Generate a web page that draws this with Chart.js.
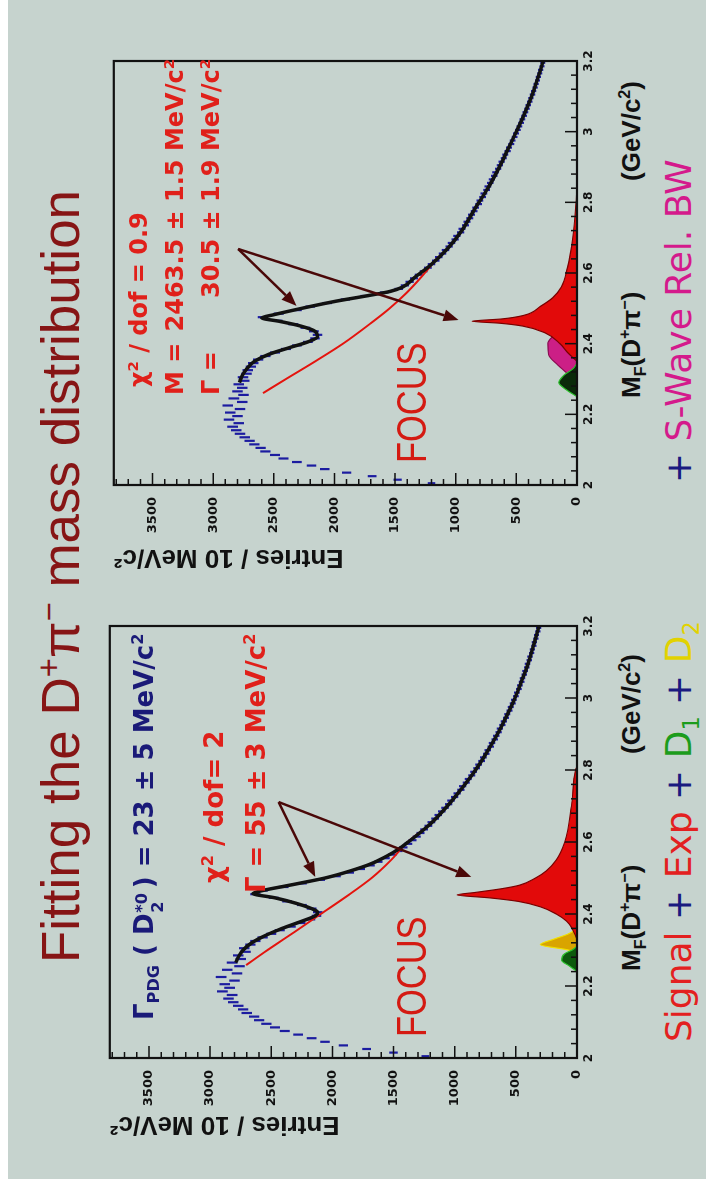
<!DOCTYPE html>
<html>
<head>
<meta charset="utf-8">
<title>Fitting the D+π- mass distribution</title>
<script src="https://cdn.jsdelivr.net/npm/chart.js@4.4.1/dist/chart.umd.min.js"></script>
<style>
  html, body { margin: 0; padding: 0; width: 706px; height: 1189px; overflow: hidden; background: #fff; }
  /* the slide is landscape; it is turned a quarter left to fit the portrait window */
  #slide { position: absolute; left: 0; top: 0; width: 1189px; height: 706px;
           transform-origin: 0 0; transform: translateY(1189px) rotate(-90deg);
           font-family: 'Liberation Sans', Arial, sans-serif; }
  #paper { position: absolute; left: 10px; top: 8px; right: 0; bottom: 0; background: #c6d3ce; }
  .box { position: absolute; }
  .txt { position: absolute; white-space: pre; line-height: 1; }
  .txt sup, .txt sub { line-height: 0; font-size: 62%; }
  .title { font-size: 53px; color: #861515; }
  .ann { font-family: 'DejaVu Sans', sans-serif; font-size: 26px; font-weight: bold; }
  .ann.sm { font-size: 24px; }
  .red { color: #e0201a; }
  .navy { color: #1a1a78; }
  .focus { font-size: 42px; color: #d41a12; transform: scaleX(0.82); transform-origin: 0 0; }
  .xt { font-size: 26px; font-weight: bold; color: #111; }
  .leg { font-family: 'DejaVu Sans', sans-serif; font-size: 36px; }
  .leg .r { color: #e32020; } .leg .b { color: #1a1a80; } .leg .g { color: #1c9c1c; }
  .leg .y { color: #e2d200; } .leg .m { color: #d41a8c; }
  .stk { position: relative; display: inline-block; width: 0.62em; height: 0; }
  .stk span { position: absolute; left: 0.04em; font-size: 62%; line-height: 1; }
  .stk .up { top: -1.2em; } .stk .dn { top: -0.2em; }
</style>
</head>
<body>
<div id="slide">
  <div id="paper"></div>

  <div class="txt title" style="left:226px;top:34px">Fitting the D<sup>+</sup>π<sup>−</sup> mass distribution</div>

  <div class="box" style="left:40px;top:90px"><canvas id="chartLeft" width="540" height="520"></canvas></div>
  <div class="box" style="left:613px;top:94px"><canvas id="chartRight" width="540" height="520"></canvas></div>

  <!-- left panel texts -->
  <div class="txt ann navy" style="left:169px;top:131px">Γ<sub>PDG</sub> ( D<span class="stk"><span class="up">*0</span><span class="dn">2</span></span> ) = 23 ± 5 MeV/c<sup>2</sup></div>
  <div class="txt ann red" style="left:306px;top:201px">χ<sup>2</sup> / dof= 2</div>
  <div class="txt ann red" style="left:296px;top:243px">Γ = 55 ± 3 MeV/c<sup>2</sup></div>
  <div class="txt focus" style="left:152px;top:391px">FOCUS</div>
  <div class="txt xt" style="left:218px;top:618px">M<sub>F</sub>(D<sup>+</sup>π<sup>−</sup>)</div>
  <div class="txt xt" style="left:435px;top:618px">(GeV/c<sup>2</sup>)</div>
  <div class="txt leg" style="left:147px;top:661px"><span class="r">Signal</span> <span class="b">+</span> <span class="r">Exp</span> <span class="b">+</span> <span class="g">D<sub>1</sub></span> <span class="b">+</span> <span class="y">D<sub>2</sub></span></div>

  <!-- right panel texts -->
  <div class="txt ann sm red" style="left:802px;top:127px">χ<sup>2</sup> / dof = 0.9</div>
  <div class="txt ann sm red" style="left:794px;top:163px">M =</div>
  <div class="txt ann sm red" style="right:59px;top:163px">2463.5 ± 1.5 MeV/c<sup>2</sup></div>
  <div class="txt ann sm red" style="left:794px;top:199px">Γ =</div>
  <div class="txt ann sm red" style="right:59px;top:199px">30.5 ± 1.9 MeV/c<sup>2</sup></div>
  <div class="txt focus" style="left:726px;top:391px">FOCUS</div>
  <div class="txt xt" style="left:791px;top:618px">M<sub>F</sub>(D<sup>+</sup>π<sup>−</sup>)</div>
  <div class="txt xt" style="left:1008px;top:618px">(GeV/c<sup>2</sup>)</div>
  <div class="txt leg" style="left:706px;top:661px"><span class="b">+</span> <span class="m">S-Wave Rel. BW</span></div>
</div>

<script>
// --- axis ranges and tick labels ---
const X_MIN = 2.0, X_MAX = 3.2;
const Y_MAX = 3820;
const X_TICKS = [2, 2.2, 2.4, 2.6, 2.8, 3, 3.2];
const Y_TICKS = [0, 500, 1000, 1500, 2000, 2500, 3000, 3500];
const BIN_START = 2.0, BIN_WIDTH = 0.01;   // 10 MeV bins

// --- left panel (Γ = 55 fit) : entries per 10 MeV bin, 2.00 .. 3.20 ---
const entriesLeft = [
  1240, 1500, 1720, 1910, 2060, 2170, 2280, 2390, 2470, 2540,
  2600, 2640, 2700, 2730, 2770, 2810, 2850, 2820, 2900, 2840,
  2880, 2800, 2910, 2780, 2860, 2760, 2820, 2750, 2770, 2710,
  2720, 2670, 2630, 2570, 2500, 2430, 2340, 2260, 2180, 2130,
  2120, 2170, 2250, 2370, 2480, 2630, 2570, 2400, 2250, 2100,
  1970, 1860, 1770, 1690, 1625, 1565, 1510, 1460, 1420, 1380,
  1345, 1310, 1280, 1250, 1215, 1190, 1160, 1135, 1105, 1080,
  1050, 1030, 1000, 980, 950, 935, 905, 890, 860, 845,
  820, 805, 780, 765, 742, 730, 706, 695, 672, 660,
  640, 630, 610, 598, 580, 570, 552, 542, 526, 516,
  500, 492, 476, 468, 453, 446, 431, 424, 410, 404,
  390, 384, 371, 365, 353, 348, 336, 331, 320, 314
];
// [mass, entries]
const fitTotalLeft = [
  [2.265, 2790], [2.28, 2770], [2.30, 2730], [2.32, 2660], [2.34, 2550], [2.36, 2410],
  [2.38, 2250], [2.395, 2140], [2.405, 2120], [2.415, 2170], [2.43, 2300], [2.445, 2470],
  [2.457, 2650], [2.466, 2560], [2.478, 2380], [2.49, 2200], [2.50, 2060], [2.52, 1850],
  [2.54, 1680], [2.56, 1560], [2.58, 1460], [2.60, 1380], [2.65, 1200], [2.70, 1060],
  [2.75, 940], [2.80, 830], [2.85, 735], [2.90, 650], [2.95, 575], [3.00, 507],
  [3.05, 450], [3.10, 396], [3.15, 352], [3.20, 310]
];
const expLeft = [
  [2.258, 2705], [2.30, 2530], [2.35, 2310], [2.40, 2095], [2.45, 1880], [2.50, 1680],
  [2.55, 1520], [2.60, 1385], [2.65, 1200], [2.70, 1060], [2.75, 940], [2.80, 830],
  [2.85, 735], [2.90, 650], [2.95, 575], [3.00, 507], [3.05, 450], [3.10, 396],
  [3.15, 352], [3.20, 310]
];
const signalLeft = [
  [2.33, 0], [2.36, 40], [2.38, 85], [2.40, 170], [2.42, 300], [2.435, 480], [2.445, 720],
  [2.453, 980], [2.46, 830], [2.47, 620], [2.48, 470], [2.50, 340], [2.52, 250],
  [2.55, 170], [2.60, 100], [2.70, 45], [2.80, 12], [2.81, 0]
];
const d1Left = [[2.24, 0], [2.255, 60], [2.272, 125], [2.29, 100], [2.30, 40], [2.31, 0]];
const d2Left = [[2.29, 0], [2.30, 70], [2.315, 300], [2.33, 190], [2.345, 70], [2.36, 10], [2.50, 6], [2.80, 5], [2.81, 0]];

// --- right panel (M = 2463.5, Γ = 30.5 fit) ---
const entriesRight = [
  1200, 1480, 1690, 1900, 2080, 2190, 2310, 2420, 2490, 2570,
  2610, 2660, 2700, 2740, 2780, 2810, 2840, 2790, 2870, 2800,
  2860, 2780, 2880, 2760, 2830, 2750, 2800, 2760, 2790, 2745,
  2755, 2725, 2715, 2690, 2670, 2630, 2570, 2490, 2400, 2310,
  2220, 2160, 2140, 2170, 2240, 2340, 2470, 2590, 2460, 2310,
  2200, 2060, 1910, 1750, 1590, 1470, 1420, 1380, 1345, 1305,
  1265, 1230, 1200, 1165, 1140, 1110, 1085, 1055, 1035, 1005,
  990, 960, 948, 920, 908, 885, 870, 848, 836, 812,
  800, 778, 768, 745, 735, 715, 702, 682, 672, 650,
  636, 622, 604, 592, 572, 560, 542, 531, 514, 503,
  487, 476, 461, 450, 436, 426, 412, 402, 389, 380,
  367, 358, 346, 338, 326, 318, 307, 300, 289, 282
];
const fitTotalRight = [
  [2.29, 2785], [2.31, 2760], [2.33, 2720], [2.35, 2660], [2.37, 2540], [2.39, 2360],
  [2.405, 2220], [2.42, 2140], [2.435, 2160], [2.45, 2280], [2.463, 2450], [2.473, 2600],
  [2.482, 2500], [2.50, 2270], [2.52, 1990], [2.535, 1740], [2.548, 1540], [2.56, 1440],
  [2.59, 1330], [2.62, 1215], [2.67, 1065], [2.72, 950], [2.78, 845], [2.84, 735],
  [2.90, 640], [2.95, 570], [3.00, 500], [3.05, 434], [3.10, 375], [3.15, 325], [3.20, 278]
];
const expRight = [
  [2.26, 2590], [2.30, 2400], [2.354, 2140], [2.40, 1930], [2.458, 1700], [2.50, 1545],
  [2.543, 1408], [2.59, 1280], [2.637, 1165], [2.67, 1065], [2.72, 950], [2.78, 845],
  [2.84, 735], [2.90, 640], [2.95, 570], [3.00, 500], [3.05, 434], [3.10, 375],
  [3.15, 325], [3.20, 278]
];
const signalRight = [
  [2.35, 0], [2.376, 80], [2.40, 140], [2.43, 260], [2.45, 450], [2.458, 640], [2.4635, 866],
  [2.47, 620], [2.48, 440], [2.506, 300], [2.53, 200], [2.56, 130], [2.614, 80],
  [2.70, 35], [2.80, 8], [2.85, 0]
];
const swaveRight = [
  [2.29, 0], [2.31, 60], [2.34, 160], [2.37, 235], [2.40, 240], [2.42, 200],
  [2.44, 110], [2.455, 30], [2.46, 0]
];
const d1Right = [[2.25, 0], [2.27, 90], [2.29, 150], [2.31, 110], [2.33, 30], [2.345, 0]];
const d2Right = [[2.30, 0], [2.325, 30], [2.35, 10], [2.45, 6], [2.80, 4], [2.81, 0]];

// annotation arrows, in (mass, entries)
const arrowsLeft = [
  { from: [2.711, 2440], to: [2.503, 2141] },
  { from: [2.711, 2440], to: [2.503, 865] }
];
const arrowsRight = [
  { from: [2.668, 2794], to: [2.507, 2313] },
  { from: [2.668, 2794], to: [2.467, 977] }
];

const pairs = list => list.map(([x, y]) => ({ x, y }));
const bins = values => values.map((y, i) => ({ x: +(BIN_START + (i + 0.5) * BIN_WIDTH).toFixed(3), y }));

// ROOT style frame with inward ticks (5 minor divisions per major)
const frameTicks = {
  id: 'frameTicks',
  afterDatasetsDraw(chart) {
    const { ctx, chartArea: a, scales: { x, y } } = chart;
    ctx.save();
    ctx.strokeStyle = '#111';
    ctx.lineWidth = 1.5;
    ctx.beginPath();
    for (let i = 0; i <= 30; i++) {
      const px = x.getPixelForValue(X_MIN + i * 0.04);
      const len = i % 5 === 0 ? 12 : 6;
      ctx.moveTo(px, a.bottom);
      ctx.lineTo(px, a.bottom - len);
    }
    for (let v = 0; v <= Y_MAX; v += 100) {
      const py = y.getPixelForValue(v);
      const len = v % 500 === 0 ? 12 : 6;
      ctx.moveTo(a.left, py);
      ctx.lineTo(a.left + len, py);
    }
    ctx.stroke();
    ctx.lineWidth = 2.2;
    ctx.strokeRect(a.left, a.top, a.right - a.left, a.bottom - a.top);
    ctx.restore();
  }
};

const arrows = {
  id: 'arrows',
  afterDatasetsDraw(chart, args, opts) {
    const { ctx, scales: { x, y } } = chart;
    ctx.save();
    ctx.strokeStyle = opts.color;
    ctx.fillStyle = opts.color;
    ctx.lineWidth = 2.5;
    (opts.list || []).forEach(a => {
      const x0 = x.getPixelForValue(a.from[0]), y0 = y.getPixelForValue(a.from[1]);
      const x1 = x.getPixelForValue(a.to[0]), y1 = y.getPixelForValue(a.to[1]);
      const ang = Math.atan2(y1 - y0, x1 - x0);
      const hl = 15, hw = 6;
      const bx = x1 - hl * Math.cos(ang), by = y1 - hl * Math.sin(ang);
      ctx.beginPath();
      ctx.moveTo(x0, y0);
      ctx.lineTo(bx, by);
      ctx.stroke();
      ctx.beginPath();
      ctx.moveTo(x1, y1);
      ctx.lineTo(bx + hw * Math.sin(ang), by - hw * Math.cos(ang));
      ctx.lineTo(bx - hw * Math.sin(ang), by + hw * Math.cos(ang));
      ctx.closePath();
      ctx.fill();
    });
    ctx.restore();
  }
};

function curve(data, color, width) {
  return { data: pairs(data), borderColor: color, borderWidth: width, pointRadius: 0,
           fill: false, cubicInterpolationMode: 'monotone' };
}
function area(data, fillColor, lineColor) {
  return { data: pairs(data), backgroundColor: fillColor, borderColor: lineColor, borderWidth: 1.2,
           pointRadius: 0, fill: 'origin', cubicInterpolationMode: 'monotone' };
}

function makeChart(id, p) {
  const tickFont = { family: 'DejaVu Sans', size: 12, weight: 'bold' };
  const datasets = [
    curve(p.total, '#111', 3.5),
    curve(p.exp, '#e4140e', 2),
    // error bars grow with sqrt(N), as in the original
    { data: bins(p.entries), showLine: false, pointStyle: 'line', rotation: 90,
      pointRadius: c => 1.2 + Math.sqrt(c.raw ? c.raw.y : 0) / 13,
      borderColor: '#1c1ca0', borderWidth: 2.2 },
    area(p.d1, p.d1Fill, '#2cc02c'),
    area(p.signal, '#e20a0a', '#7a0000'),
    ...(p.swave ? [area(p.swave, '#cc1f86', '#8a0a50')] : []),
    area(p.d2, '#d9a400', '#efe000')
  ];
  return new Chart(document.getElementById(id), {
    type: 'line',
    data: { datasets },
    options: {
      responsive: false,
      animation: false,
      devicePixelRatio: 1,
      layout: { padding: p.pad },
      plugins: { legend: { display: false }, tooltip: { enabled: false },
                 arrows: { list: p.arrows, color: '#4a0808' } },
      scales: {
        x: {
          type: 'linear', min: X_MIN, max: X_MAX,
          grid: { display: false, drawTicks: false },
          border: { display: false },
          afterBuildTicks: s => { s.ticks = X_TICKS.map(value => ({ value })); },
          afterFit: s => { s.height = 30; },
          ticks: {
            padding: 5, color: '#111', font: tickFont, maxRotation: 0, autoSkip: false,
            callback: v => String(v)
          }
        },
        y: {
          type: 'linear', min: 0, max: Y_MAX,
          grid: { display: false, drawTicks: false },
          border: { display: false },
          afterBuildTicks: s => { s.ticks = Y_TICKS.map(value => ({ value })); },
          afterFit: s => { s.width = p.yWidth; },
          ticks: {
            padding: 12, color: '#111', font: { ...tickFont, size: 13 }, autoSkip: false,
            callback: v => String(v)
          },
          title: {
            display: true, text: 'Entries / 10 MeV/c²', align: 'end', padding: 0,
            color: '#111', font: { family: 'Liberation Sans', size: 26, weight: 'bold' }
          }
        }
      }
    },
    plugins: [frameTicks, arrows]
  });
}

makeChart('chartLeft', {
  entries: entriesLeft, total: fitTotalLeft, exp: expLeft, signal: signalLeft,
  d1: d1Left, d1Fill: '#0c5a0c', d2: d2Left, arrows: arrowsLeft,
  yWidth: 82, pad: { left: 9, top: 14, right: 17, bottom: 3 }
});
makeChart('chartRight', {
  entries: entriesRight, total: fitTotalRight, exp: expRight, signal: signalRight,
  swave: swaveRight, d1: d1Right, d1Fill: '#0a2a0a', d2: d2Right, arrows: arrowsRight,
  yWidth: 88, pad: { left: 3, top: 14, right: 25, bottom: 7 }
});
</script>
</body>
</html>
